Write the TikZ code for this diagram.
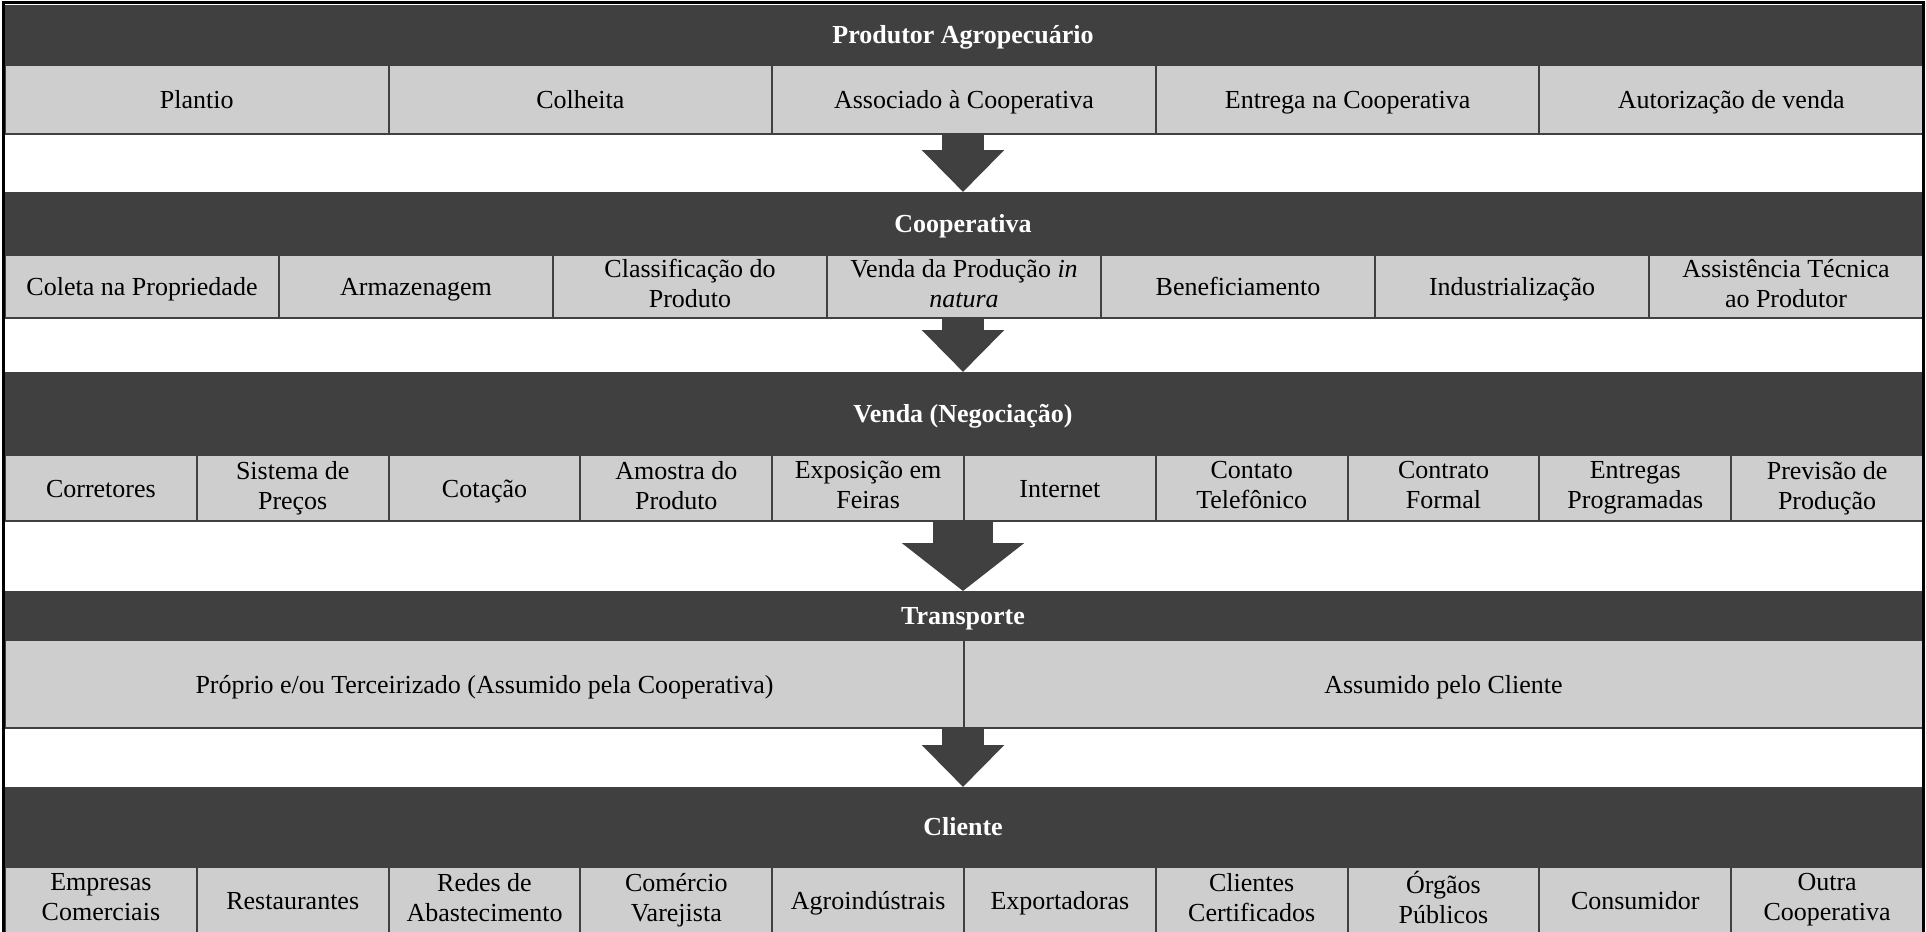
\documentclass[tikz,border=0pt]{standalone}
\usepackage{fontspec}
\setmainfont{Liberation Serif}
\usetikzlibrary{arrows.meta}
\definecolor{bandgray}{RGB}{64,64,64}
\definecolor{cellgray}{RGB}{206,206,206}
\newcommand{\cellstrut}{\rule[-6pt]{0pt}{30pt}}
\tikzset{
  band/.style={rectangle, fill=bandgray, text=white, inner sep=0pt, anchor=north,
    minimum width=1918pt, font=\bfseries\fontsize{26}{30}\selectfont,
    execute at begin node=\cellstrut},
  cell/.style={rectangle, draw=bandgray, line width=2pt, fill=cellgray, inner sep=0pt,
    anchor=north west, align=center, font=\fontsize{26}{30}\selectfont,
    execute at begin node=\cellstrut, execute at end node=\cellstrut},
  flow/.style={color=bandgray, line width=42pt, -{Triangle[length=42pt, width=80pt]}},
  bigflow/.style={color=bandgray, line width=60pt, -{Triangle[length=48pt, width=120pt]}},
}
\begin{document}
\begin{tikzpicture}[x=1pt, y=-1pt]
    \useasboundingbox (0, 0) rectangle (1926, 931);

    % produtor
    \node[band, minimum height=59pt] (prod) at (963, 5) {Produtor Agropecuário};
    \foreach \txt [count=\i] in {Plantio, Colheita, Associado à Cooperativa,
      Entrega na Cooperativa, Autorização de venda}
      \node[cell, minimum width=383.6pt, minimum height=69pt] (prodc\i)
        at ({4+(\i-1)*383.6}, 64) {\txt};

    % cooperativa
    \node[band, minimum height=62pt] (coop) at (963, 192) {Cooperativa};
    \foreach \txt [count=\i] in {Coleta na Propriedade, Armazenagem,
      {Classificação do\\Produto}, {Venda da Produção \textit{in}\\\textit{natura}},
      Beneficiamento, Industrialização, {Assistência Técnica\\ao Produtor}}
      \node[cell, minimum width=274pt, minimum height=63pt] (coopc\i)
        at ({4+(\i-1)*274}, 254) {\txt};

    % venda
    \node[band, minimum height=82pt] (venda) at (963, 372) {Venda (Negociação)};
    \foreach \txt [count=\i] in {Corretores, {Sistema de\\Preços}, Cotação,
      {Amostra do\\Produto}, {Exposição em\\Feiras}, Internet, {Contato\\Telefônico},
      {Contrato\\Formal}, {Entregas\\Programadas}, {Previsão de\\Produção}}
      \node[cell, minimum width=191.8pt, minimum height=66pt] (vendac\i)
        at ({4+(\i-1)*191.8}, 454) {\txt};

    % transporte
    \node[band, minimum height=48pt] (transp) at (963, 591) {Transporte};
    \foreach \txt [count=\i] in {Próprio e/ou Terceirizado (Assumido pela Cooperativa),
      Assumido pelo Cliente}
      \node[cell, minimum width=959pt, minimum height=88pt] (transpc\i)
        at ({4+(\i-1)*959}, 639) {\txt};

    % cliente
    \node[band, minimum height=79pt] (cliente) at (963, 787) {Cliente};
    \foreach \txt [count=\i] in {{Empresas\\Comerciais}, Restaurantes,
      {Redes de\\Abastecimento}, {Comércio\\Varejista}, Agroindústrais, Exportadoras,
      {Clientes\\Certificados}, {Órgãos\\Públicos}, Consumidor, {Outra\\Cooperativa}}
      \node[cell, minimum width=191.8pt, minimum height=66pt] (clientec\i)
        at ({4+(\i-1)*191.8}, 866) {\txt};

    % arrows
    \draw[flow] (coop.north |- prodc3.south) -- (coop.north);
    \draw[flow] (venda.north |- coopc4.south) -- (venda.north);
    \draw[bigflow] (transp.north |- vendac5.south) -- (transp.north);
    \draw[flow] (cliente.north |- transpc1.south) -- (cliente.north);

    % frame
    \draw[line width=3pt] (3, 940) -- (3, 3) -- (1923, 3) -- (1923, 940);
\end{tikzpicture}
\end{document}
